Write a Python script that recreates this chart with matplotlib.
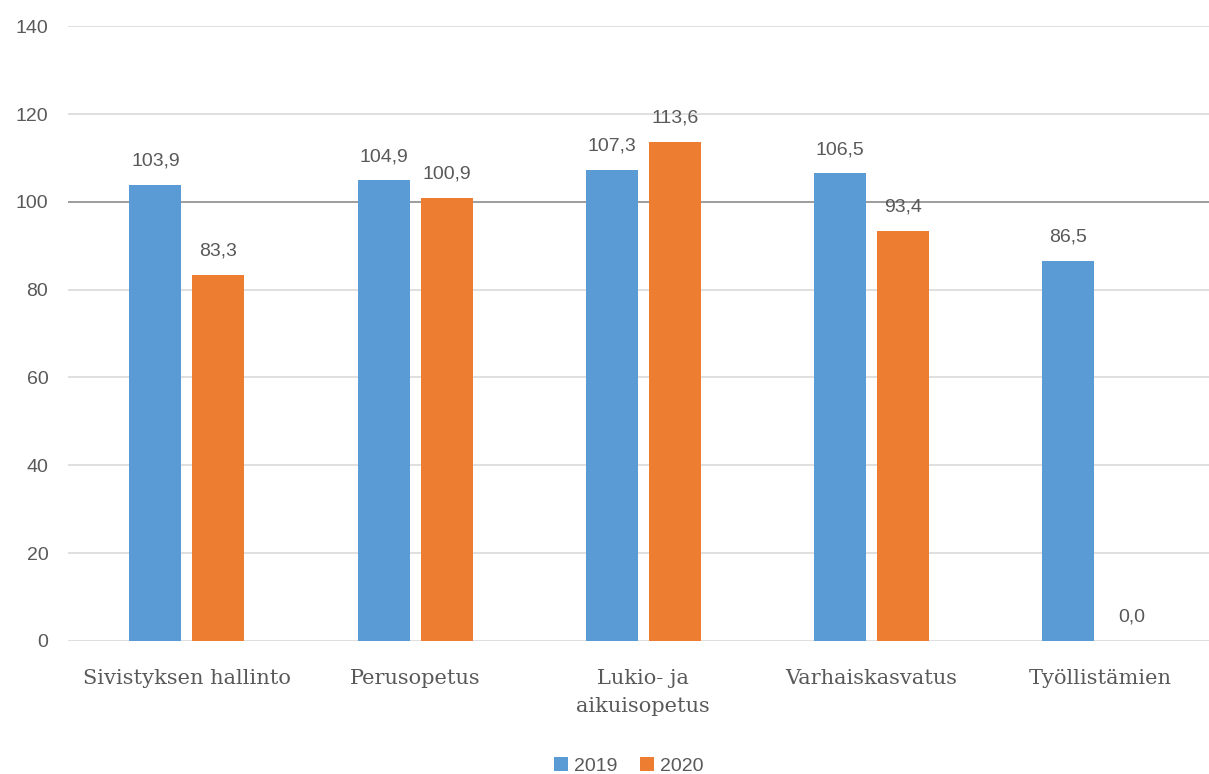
import matplotlib
matplotlib.use("Agg")
import matplotlib.pyplot as plt
import numpy as np

categories = ["Sivistyksen hallinto", "Perusopetus", "Lukio- ja\naikuisopetus",
              "Varhaiskasvatus", "Työllistämien"]
values_2019 = [103.9, 104.9, 107.3, 106.5, 86.5]
values_2020 = [83.3, 100.9, 113.6, 93.4, 0.0]
series_names = ["2019", "2020"]
yticks = [0, 20, 40, 60, 80, 100, 120, 140]

blue = "#5B9BD5"
orange = "#ED7D31"
txt = "#595959"
num_font = ["Liberation Sans Narrow", "Liberation Sans", "DejaVu Sans"]
cat_font = ["DejaVu Serif"]

fig = plt.figure(figsize=(12.09, 7.74), dpi=100)
ax = fig.add_axes([0.056, 0.172, 0.944, 0.794])

x = np.arange(len(categories))
w = 0.228
off = 0.138
b1 = ax.bar(x - off, values_2019, w, color=blue, label=series_names[0], zorder=3)
b2 = ax.bar(x + off, values_2020, w, color=orange, label=series_names[1], zorder=3)

for bars, vals in ((b1, values_2019), (b2, values_2020)):
    for rect, v in zip(bars, vals):
        ax.text(rect.get_x() + rect.get_width() / 2, v + 3.5, f"{v:.1f}".replace(".", ","),
                ha="center", va="bottom", fontsize=14, color=txt, family=num_font)

ax.set_xlim(-0.522, len(categories) - 0.522)
ax.set_ylim(0, 140)
ax.set_yticks(yticks)
ax.set_yticklabels([str(t) for t in yticks], fontsize=14, color=txt, family=num_font)
ax.set_xticks(x)
ax.set_xticklabels(categories, fontsize=15, color=txt, family=cat_font, linespacing=1.6)
ax.tick_params(axis="both", length=0)
ax.tick_params(axis="y", pad=14)
ax.tick_params(axis="x", pad=20)

for t in yticks:
    if t == 100:
        ax.axhline(t, color="#8c8c8c", lw=1.2, zorder=1)
    else:
        ax.axhline(t, color="#d9d9d9", lw=1.2, zorder=1)

for s in ax.spines.values():
    s.set_visible(False)

leg = fig.legend(loc="lower center", bbox_to_anchor=(0.52, -0.024), ncol=2, frameon=False,
                 handlelength=0.7, handleheight=0.7, handletextpad=0.3, columnspacing=1.2,
                 prop={"family": num_font, "size": 14})
for t in leg.get_texts():
    t.set_color(txt)

fig.savefig("out.png", dpi=100)
